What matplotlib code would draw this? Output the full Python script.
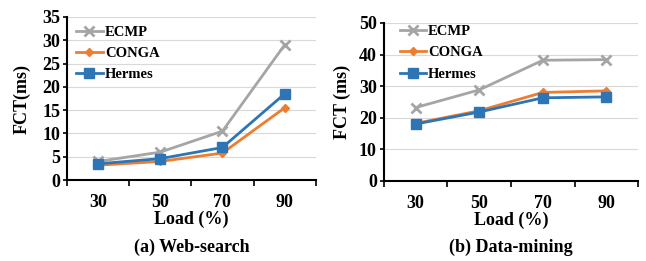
import matplotlib
matplotlib.use("Agg")
import matplotlib.pyplot as plt

plt.rcParams['font.family'] = ['Liberation Serif', 'DejaVu Serif']
plt.rcParams['font.weight'] = 'bold'

loads = ["30", "50", "70", "90"]
web_ecmp = [4.0, 6.0, 10.5, 29.0]
web_conga = [3.2, 4.0, 5.8, 15.5]
web_hermes = [3.5, 4.6, 7.0, 18.5]
dm_ecmp = [23.2, 28.8, 38.2, 38.4]
dm_conga = [18.2, 22.2, 28.0, 28.5]
dm_hermes = [18.0, 21.8, 26.3, 26.6]
series_names = ["ECMP", "CONGA", "Hermes"]
colors = ["#A5A5A5", "#ED7D31", "#2E75B6"]
markers = ["x", "D", "s"]
msizes = [7, 4, 6.5]

fig = plt.figure(figsize=(6.46, 2.61), dpi=100)
ax1 = fig.add_axes([0.1037, 0.310, 0.385, 0.625])
ax2 = fig.add_axes([0.594, 0.307, 0.394, 0.605])

def draw(ax, data, ymax, ystep, ylabel, title, leg_anchor, ylpad):
    x = list(range(len(loads)))
    for vals, name, c, m, ms in zip(data, series_names, colors, markers, msizes):
        ax.plot(x, vals, color=c, marker=m, markersize=ms, linewidth=2,
                markeredgewidth=2 if m == "x" else 1, label=name)
    ax.set_xlim(-0.5, len(loads) - 0.5)
    ax.set_ylim(0, ymax)
    ax.set_yticks(range(0, ymax + 1, ystep))
    ax.set_xticks(x)
    ax.set_xticklabels(loads)
    ax.set_xticks([i - 0.5 for i in range(len(loads) + 1)], minor=True)
    ax.tick_params(axis='x', which='major', length=0, pad=10, labelsize=13)
    ax.tick_params(axis='x', which='minor', length=4, width=1.2, direction='out')
    ax.tick_params(axis='y', length=3, width=1.2, labelsize=13, pad=2)
    for s in ['top', 'right']:
        ax.spines[s].set_visible(False)
    for s in ['left', 'bottom']:
        ax.spines[s].set_linewidth(1.5)
    ax.grid(axis='y', color='#D9D9D9', linewidth=0.8)
    ax.set_axisbelow(True)
    ax.set_ylabel(ylabel, fontsize=13, fontweight='bold', labelpad=ylpad)
    ax.set_xlabel("Load (%)", fontsize=13, fontweight='bold', labelpad=0)
    ax.legend(loc='upper left', bbox_to_anchor=leg_anchor, frameon=False,
              fontsize=10.5, handlelength=1.8, borderaxespad=0.0,
              labelspacing=0.55, handletextpad=0.15, borderpad=0.3)
    pos = ax.get_position()
    fig.text((pos.x0 + pos.x1) / 2, 1 - 247 / 261, title, ha='center',
             va='center', fontsize=13, fontweight='bold')

draw(ax1, [web_ecmp, web_conga, web_hermes], 35, 5, "FCT(ms)", "(a) Web-search",
     (0.02, 0.975), 8)
draw(ax2, [dm_ecmp, dm_conga, dm_hermes], 50, 10, "FCT (ms)", "(b) Data-mining",
     (0.045, 1.015), 6)

fig.savefig("out.png", dpi=100)
